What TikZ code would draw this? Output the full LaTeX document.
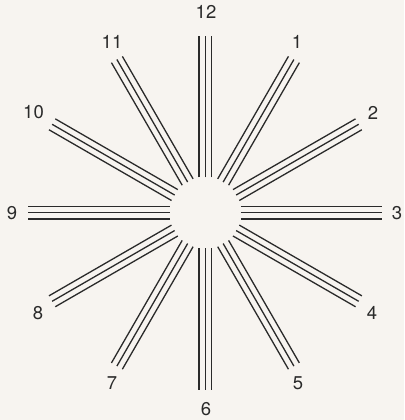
\documentclass[tikz,border=0pt]{standalone}
\usepackage{fontspec}
\setmainfont{TeX Gyre Heros}
\usetikzlibrary{calc}
\definecolor{bg}{HTML}{F7F4F0}
\definecolor{ink}{HTML}{2A2A2A}
\begin{document}
\begin{tikzpicture}[x=1pt,y=1pt,
  ray/.style={draw=ink,line width=1.3pt},
  lbl/.style={font=\fontsize{18.5}{18.5}\selectfont, text=ink, inner sep=0pt}]
\fill[bg] (0,0) rectangle (404,420);
\useasboundingbox (0,0) rectangle (404,420);
\coordinate (c) at (205.4,207.2);
\foreach \k in {1,...,12} {
  \pgfmathsetmacro\a{90-30*\k}
  \foreach \o in {-6.3,0,6.3} {
    \draw[ray] ($(c)+(\a:35.5)+(\a+90:\o)$) -- ($(c)+(\a:177)+(\a+90:\o)$);
  }
}
\node[lbl] (l12) at (206,408.5) {12};
\node[lbl] (l1) at (297,378) {1};
\node[lbl] (l2) at (373,307) {2};
\node[lbl] (l3) at (397,207) {3};
\node[lbl] (l4) at (372,107) {4};
\node[lbl] (l5) at (298,37) {5};
\node[lbl] (l6) at (206,11) {6};
\node[lbl] (l7) at (112,37) {7};
\node[lbl] (l8) at (38,107) {8};
\node[lbl] (l9) at (12,207) {9};
\node[lbl] (l10) at (33.5,308) {10};
\node[lbl] (l11) at (112,378) {11};
\end{tikzpicture}
\end{document}
